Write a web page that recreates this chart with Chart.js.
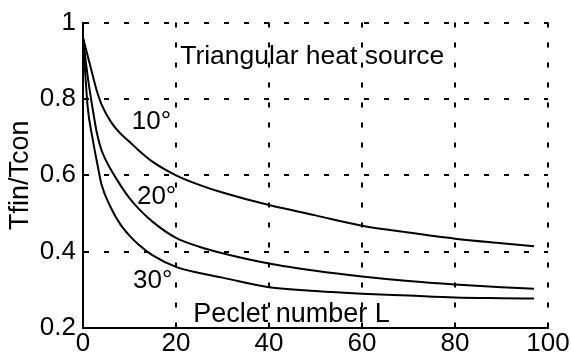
<!DOCTYPE html>
<html>
<head>
<meta charset="utf-8">
<script src="https://cdn.jsdelivr.net/npm/chart.js@4"></script>
<style>
html,body{margin:0;padding:0;background:#fff;}
#wrap{width:571px;height:363px;position:relative;}
</style>
</head>
<body>
<div id="wrap"><canvas id="c" width="571" height="363"></canvas></div>
<script>
// Data
const pecletX = [0, 1, 2, 3, 4, 6, 8, 10, 12, 15, 20, 25, 30, 40, 50, 60, 70, 80, 90, 97];
const ratio10 = [0.96, 0.913, 0.866, 0.82, 0.785, 0.74, 0.71, 0.688, 0.665, 0.635, 0.6, 0.575, 0.555, 0.522, 0.495, 0.468, 0.45, 0.434, 0.422, 0.414];
const ratio20 = [0.96, 0.86, 0.78, 0.71, 0.665, 0.615, 0.575, 0.54, 0.512, 0.478, 0.436, 0.413, 0.396, 0.369, 0.35, 0.335, 0.323, 0.314, 0.307, 0.303];
const ratio30 = [0.96, 0.78, 0.70, 0.635, 0.575, 0.515, 0.472, 0.442, 0.418, 0.39, 0.36, 0.344, 0.332, 0.307, 0.297, 0.29, 0.285, 0.28, 0.278, 0.277];
const xTicks = [0, 20, 40, 60, 80, 100];
const yTicks = [0.2, 0.4, 0.6, 0.8, 1];
const yTitle = 'Tfin/Tcon';
const notes = [
  {text: 'Triangular heat source', x: 20.9, y: 0.891, size: 26.5},
  {text: '10°', x: 10.5, y: 0.722, size: 26},
  {text: '20°', x: 11.6, y: 0.525, size: 26},
  {text: '30°', x: 10.75, y: 0.304, size: 26},
  {text: 'Peclet number L', x: 23.7, y: 0.216, size: 27}
];

const toPts = arr => pecletX.map((x, i) => ({x: x, y: arr[i]}));
const FONT = "'Liberation Sans', Arial, sans-serif";

const notePlugin = {
  id: 'notes',
  beforeDatasetsDraw(chart) {
    const {ctx, scales: {x, y}} = chart;
    ctx.save();
    ctx.fillStyle = '#000';
    ctx.textAlign = 'left';
    ctx.textBaseline = 'alphabetic';
    notes.forEach(n => {
      ctx.font = n.size + 'px ' + FONT;
      ctx.fillText(n.text, x.getPixelForValue(n.x), y.getPixelForValue(n.y));
    });
    ctx.restore();
  }
};

const ds = (label, arr) => ({
  label: label,
  data: toPts(arr),
  borderColor: '#000',
  borderWidth: 2,
  pointRadius: 0,
  fill: false,
  cubicInterpolationMode: 'monotone'
});

new Chart(document.getElementById('c'), {
  type: 'line',
  data: {
    datasets: [ds('10°', ratio10), ds('20°', ratio20), ds('30°', ratio30)]
  },
  options: {
    responsive: false,
    animation: false,
    layout: {padding: {left: 0, right: 23, top: 20, bottom: 0}},
    plugins: {legend: {display: false}, tooltip: {enabled: false}},
    scales: {
      x: {
        type: 'linear', min: 0, max: 100,
        afterBuildTicks: s => { s.ticks = xTicks.map(v => ({value: v})); },
        afterFit: s => { s.height = 35; },
        ticks: {color: '#000', font: {family: FONT, size: 26}, padding: 0, maxRotation: 0},
        grid: {color: '#000', lineWidth: 2, drawTicks: false},
        border: {display: true, color: '#000', width: 2, dash: [5, 15]}
      },
      y: {
        type: 'linear', min: 0.2, max: 1,
        afterBuildTicks: s => { s.ticks = yTicks.map(v => ({value: v})); },
        afterFit: s => { s.width = 83; },
        ticks: {color: '#000', font: {family: FONT, size: 26}, padding: 7,
          callback: v => (v === 1 ? '1' : v.toFixed(1))},
        title: {display: true, text: yTitle, color: '#000', font: {family: FONT, size: 27}, padding: {top: 4, bottom: 0}},
        grid: {color: '#000', lineWidth: 2, drawTicks: false},
        border: {display: true, color: '#000', width: 2, dash: [5, 15]}
      }
    }
  },
  plugins: [notePlugin]
});
</script>
</body>
</html>
